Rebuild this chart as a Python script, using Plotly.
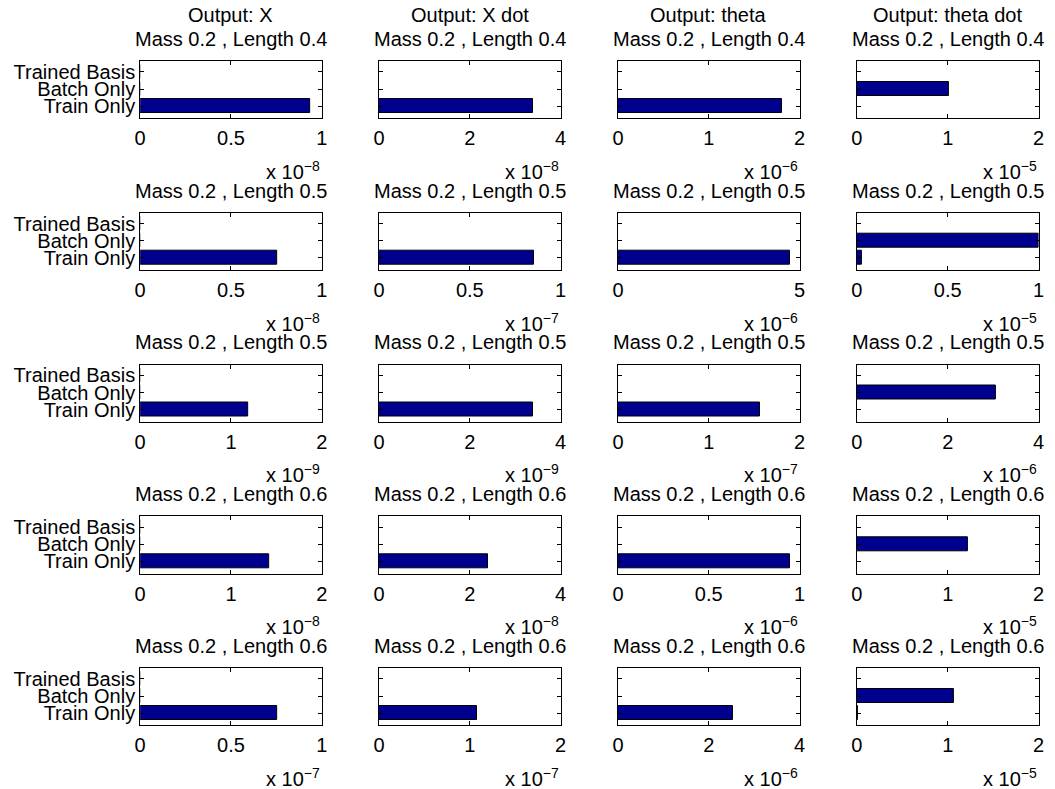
import plotly.graph_objects as go

# ---------------- data ----------------
categories = ["Train Only", "Batch Only", "Trained Basis"]
outputs = ["X", "X dot", "theta", "theta dot"]
masses = [0.2, 0.2, 0.2, 0.2, 0.2]
lengths = [0.4, 0.5, 0.5, 0.6, 0.6]

# rows = experiments (top to bottom), columns = outputs
train_only = [
    [0.935e-8, 3.39e-8, 1.807e-6, 0.0],
    [0.755e-8, 0.853e-7, 4.74e-6, 0.027e-5],
    [1.19e-9, 3.40e-9, 1.56e-7, 0.0],
    [1.416e-8, 2.394e-8, 0.949e-6, 0.0],
    [0.757e-7, 1.075e-7, 2.543e-6, 0.012e-5],
]
batch_only = [
    [0.0, 0.0, 0.0, 1.015e-5],
    [0.0, 0.0, 0.0, 1.0e-5],
    [0.0, 0.0, 0.0, 3.06e-6],
    [0.0, 0.0, 0.0, 1.225e-5],
    [0.0, 0.0, 0.0, 1.073e-5],
]
trained_basis = [
    [0.0, 0.0, 0.0, 0.0],
    [0.0, 0.0, 0.0, 0.0],
    [0.0, 0.0, 0.0, 0.0],
    [0.0, 0.0, 0.0, 0.0],
    [0.0, 0.0, 0.0, 0.0],
]
exponents = [
    [-8, -8, -6, -5],
    [-8, -7, -6, -5],
    [-9, -9, -7, -6],
    [-8, -8, -6, -5],
    [-7, -7, -6, -5],
]
tick_labels = [
    [[0, 0.5, 1], [0, 2, 4], [0, 1, 2], [0, 1, 2]],
    [[0, 0.5, 1], [0, 0.5, 1], [0, 5], [0, 0.5, 1]],
    [[0, 1, 2], [0, 2, 4], [0, 1, 2], [0, 2, 4]],
    [[0, 1, 2], [0, 2, 4], [0, 0.5, 1], [0, 1, 2]],
    [[0, 0.5, 1], [0, 1, 2], [0, 2, 4], [0, 1, 2]],
]

# ---------------- layout geometry (pixels) ----------------
W, H = 1055, 789
col_left = [135.7, 377.3, 619.0, 860.7]
box_w = 183.7
row_top = [61.0, 212.7, 364.5, 516.3, 668.0]
box_h = 57.3

FONT = "Liberation Sans, Arial, Helvetica, sans-serif"
FS = 20
BAR_COLOR = "rgb(0,0,143)"

fig = go.Figure()
layout = dict(
    width=W, height=H, autosize=False,
    margin=dict(l=0, r=0, t=0, b=0),
    paper_bgcolor="white", plot_bgcolor="white",
    showlegend=False,
    font=dict(family=FONT, size=FS, color="black"),
    bargap=0,
)
annotations = []


def fmt(v):
    return ("%g" % v)


n = 0
for r in range(5):
    for c in range(4):
        n += 1
        sfx = "" if n == 1 else str(n)
        scale = 10.0 ** exponents[r][c]
        ticks = tick_labels[r][c]
        xvals = [train_only[r][c], batch_only[r][c], trained_basis[r][c]]
        fig.add_trace(go.Bar(
            x=xvals, y=[1, 2, 3], orientation="h", width=0.8,
            marker=dict(color=BAR_COLOR, line=dict(color="black", width=1)),
            xaxis="x" + sfx, yaxis="y" + sfx, hoverinfo="x+y",
        ))
        x0 = col_left[c] / W
        x1 = (col_left[c] + box_w) / W
        y1 = 1 - row_top[r] / H
        y0 = 1 - (row_top[r] + box_h) / H
        layout["xaxis" + sfx] = dict(
            domain=[x0, x1], anchor="y" + sfx,
            range=[0, ticks[-1] * scale],
            tickvals=[t * scale for t in ticks],
            ticktext=[fmt(t) for t in ticks],
            ticks="inside", ticklen=4, tickwidth=1, tickcolor="black",
            showline=True, linecolor="black", linewidth=1, mirror="ticks",
            showgrid=False, zeroline=False,
            tickfont=dict(family=FONT, size=FS, color="black"),
            ticklabelstandoff=2,
        )
        layout["yaxis" + sfx] = dict(
            domain=[y0, y1], anchor="x" + sfx,
            range=[0.29, 3.64],
            tickvals=[1, 2, 3],
            ticktext=categories,
            showticklabels=(c == 0),
            ticks="inside", ticklen=4, tickwidth=1, tickcolor="black",
            showline=True, linecolor="black", linewidth=1, mirror="ticks",
            showgrid=False, zeroline=False,
            tickfont=dict(family=FONT, size=FS, color="black"),
            ticklabelstandoff=0,
        )
        cx = (col_left[c] + box_w / 2) / W
        annotations.append(dict(
            text="Mass %g , Length %g" % (masses[r], lengths[r]),
            x=cx, y=1 - (row_top[r] - 22) / H, xref="paper", yref="paper",
            xanchor="center", yanchor="middle", showarrow=False,
            font=dict(family=FONT, size=FS, color="black"),
        ))
        if r == 0:
            annotations.append(dict(
                text="Output: " + outputs[c],
                x=cx, y=1 - 15 / H, xref="paper", yref="paper",
                xanchor="center", yanchor="middle", showarrow=False,
                font=dict(family=FONT, size=FS, color="black"),
            ))
        annotations.append(dict(
            text="x 10<sup>\u2212%d</sup>" % (-exponents[r][c]),
            x=x1, y=1 - (row_top[r] + box_h + 52) / H, xref="paper", yref="paper",
            xanchor="right", yanchor="middle", showarrow=False,
            font=dict(family=FONT, size=FS, color="black"),
        ))

layout["annotations"] = annotations
fig.update_layout(**layout)
fig.write_html(
    "out.html",
    config={"displayModeBar": False},
    post_script="document.body.style.margin='0';document.body.style.overflow='hidden';",
)
